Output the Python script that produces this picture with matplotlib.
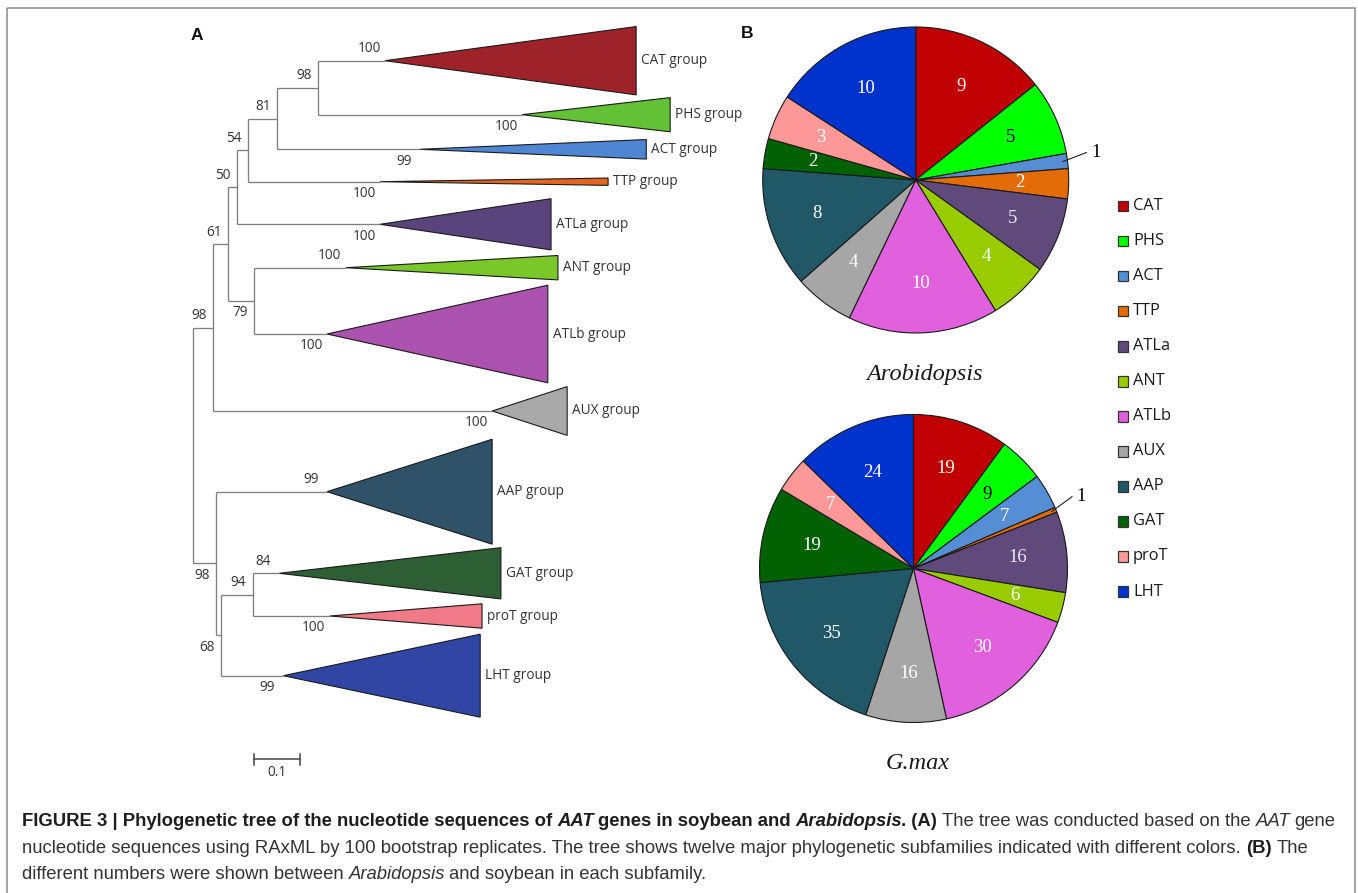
import matplotlib
matplotlib.use('Agg')
import matplotlib.pyplot as plt
from matplotlib.patches import Polygon, Rectangle
import numpy as np

W, H = 1358, 893
fig = plt.figure(figsize=(W / 100, H / 100), dpi=100)

# ---------------- data ----------------
groups = ['CAT', 'PHS', 'ACT', 'TTP', 'ATLa', 'ANT', 'ATLb', 'AUX', 'AAP', 'GAT', 'proT', 'LHT']
arabidopsis_counts = [9, 5, 1, 2, 5, 4, 10, 4, 8, 2, 3, 10]
gmax_counts = [19, 9, 7, 1, 16, 6, 30, 16, 35, 19, 7, 24]

pie_colors = ['#C00000', '#00FF00', '#558ED5', '#E36C09', '#604A7B', '#99CC00',
              '#E060DD', '#A6A6A6', '#215868', '#006100', '#FF9999', '#0033CC']
pie_text_colors = ['white', 'black', 'white', 'white', '#EDE6F5', 'white',
                   'white', 'white', 'white', 'white', 'white', 'white']
tree_colors = ['#9E2229', '#62C134', '#4F86D4', '#E4651F', '#5A447E', '#7AC72A',
               '#AB52AE', '#A9A9A9', '#2F5268', '#2E5E34', '#F07A88', '#3146A4']

# tree: collapsed clades (branch-length units)
clade_apex = [0.418, 0.716, 0.494, 0.407, 0.407, 0.333, 0.292, 0.651, 0.292, 0.188, 0.298, 0.197]
clade_tip = [0.964, 1.038, 0.986, 0.903, 0.779, 0.794, 0.772, 0.814, 0.651, 0.670, 0.629, 0.625]
clade_support = [100, 100, 99, 100, 100, 100, 100, 100, 99, 84, 100, 99]
clade_side = ['above', 'below', 'below', 'below', 'below', 'above', 'below', 'below',
              'above', 'above', 'below', 'below']
clade_row = [60.7, 114.7, 149.3, 181.7, 224.3, 267.7, 334, 411, 491.7, 573.3, 616, 675.7]

# tree: internal nodes
node_names = ['n98b', 'n81', 'n54', 'n50', 'n79', 'n61', 'n98a', 'n94', 'n68', 'n98c', 'root']
node_depth = [0.272, 0.183, 0.120, 0.0963, 0.133, 0.0767, 0.0435, 0.130, 0.061, 0.050, 0.0]
node_children = [['CAT', 'PHS'], ['n98b', 'ACT'], ['n81', 'TTP'], ['n54', 'ATLa'],
                 ['ANT', 'ATLb'], ['n50', 'n79'], ['n61', 'AUX'], ['GAT', 'proT'],
                 ['n94', 'LHT'], ['AAP', 'n68'], ['n98a', 'n98c']]
node_support = [98, 81, 54, 50, 79, 61, 98, 94, 68, 98, None]
node_side = ['above', 'above', 'above', 'above', 'below', 'above', 'above', 'above',
             'below', 'below', None]
scale_len = 0.1

# ---------------- background / frame ----------------
ax_bg = fig.add_axes([0, 0, 1, 1])
ax_bg.set_xlim(0, W)
ax_bg.set_ylim(H, 0)
ax_bg.axis('off')
ax_bg.add_patch(Rectangle((7, 8), 1348, 900, fill=False, edgecolor='#8a8a8a', lw=1.1))
ax_bg.text(197, 35, 'A', fontsize=12.5, fontweight='bold', family='Liberation Sans',
           ha='center', va='center', color='#111111')
ax_bg.text(747, 34, 'B', fontsize=12.5, fontweight='bold', family='Liberation Sans',
           ha='center', va='center', color='#111111')

# ---------------- tree ----------------
PX_PER_UNIT = 460.0
ROOT_PX = 192.7
ax_t = fig.add_axes([0, 0, 1, 1])
ax_t.patch.set_alpha(0)
ax_t.set_xlim(-ROOT_PX / PX_PER_UNIT, (W - ROOT_PX) / PX_PER_UNIT)
ax_t.set_ylim(H, 0)
ax_t.axis('off')

depth = {g: a for g, a in zip(groups, clade_apex)}
ypos = {g: r for g, r in zip(groups, clade_row)}
for name, d, ch in zip(node_names, node_depth, node_children):
    depth[name] = d
    ypos[name] = np.mean([ypos[c] for c in ch])

line_col = '#7f7f7f'
tfont = dict(family='Open Sans', fontsize=9.8, color='#333333')
for name, d, ch, sup, side in zip(node_names, node_depth, node_children, node_support, node_side):
    ys = [ypos[c] for c in ch]
    ax_t.plot([d, d], [min(ys), max(ys)], color=line_col, lw=0.95, solid_capstyle='butt')
    for c in ch:
        ax_t.plot([d, depth[c]], [ypos[c], ypos[c]], color=line_col, lw=0.95,
                  solid_capstyle='butt')
    if sup is not None:
        ax_t.annotate(str(sup), xy=(d, ypos[name]), xytext=(-10, 8.6 if side == 'above' else -8.6),
                      textcoords='offset points', ha='center', va='center', **tfont)

n_total = np.array(arabidopsis_counts) + np.array(gmax_counts)
HALF_PER_MEMBER = 1.22
for g, a, t, y, n, col, sup, side in zip(groups, clade_apex, clade_tip, clade_row, n_total,
                                         tree_colors, clade_support, clade_side):
    h = HALF_PER_MEMBER * n
    ax_t.add_patch(Polygon([(a, y), (t, y - h), (t, y + h)], closed=True, facecolor=col,
                           edgecolor='#1a1a1a', lw=0.8))
    ax_t.annotate(f'{g} group', xy=(t, y), xytext=(3.5, 0), textcoords='offset points',
                  ha='left', va='center', **tfont)
    ax_t.annotate(str(sup), xy=(a, y), xytext=(-11.5, 8.6 if side == 'above' else -8.6),
                  textcoords='offset points', ha='center', va='center', **tfont)

# scale bar
sb_x0, sb_y = 0.133, 759
ax_t.plot([sb_x0, sb_x0 + scale_len], [sb_y, sb_y], color='#444444', lw=1.1)
for xx in (sb_x0, sb_x0 + scale_len):
    ax_t.plot([xx, xx], [sb_y - 5.5, sb_y + 5.5], color='#444444', lw=1.1)
ax_t.text(sb_x0 + scale_len / 2, sb_y + 14, '0.1', ha='center', va='center', **tfont)

# ---------------- pies ----------------
def draw_pie(cx, cy, r, counts, title, tx, ty):
    ax = fig.add_axes([(cx - r) / W, 1 - (cy + r) / H, 2 * r / W, 2 * r / H])
    wedges, _ = ax.pie(counts, colors=pie_colors, startangle=90, counterclock=False,
                       wedgeprops=dict(edgecolor='#1a1a1a', linewidth=0.8))
    ax.set_xlim(-1, 1)
    ax.set_ylim(-1, 1)
    ax.axis('off')
    total = sum(counts)
    for w, v, tc in zip(wedges, counts, pie_text_colors):
        th = np.deg2rad((w.theta1 + w.theta2) / 2)
        if v / total >= 0.02:
            ax.text(0.68 * np.cos(th), 0.68 * np.sin(th), str(v), ha='center', va='center',
                    family='Liberation Serif', fontsize=13.5, color=tc)
        else:
            x0, y0 = 0.97 * np.cos(th), 0.97 * np.sin(th)
            th2 = th + np.deg2rad(2.0)
            x1, y1 = 1.13 * np.cos(th2), 1.13 * np.sin(th2)
            ax.plot([x0, x1], [y0, y1], color='#222222', lw=0.8, clip_on=False)
            ax.text(x1 + 0.03, y1, str(v), ha='left', va='center',
                    family='Liberation Serif', fontsize=13.5, color='black', clip_on=False)
    ax_bg.text(tx, ty, title, ha='center', va='baseline', family='Liberation Serif',
               style='italic', fontsize=17.5, color='#1a1a1a')

draw_pie(915.7, 180, 153, arabidopsis_counts, 'Arobidopsis', 925, 380)
draw_pie(913.5, 568.5, 154, gmax_counts, 'G.max', 918, 769)

# legend
for i, (g, col) in enumerate(zip(groups, pie_colors)):
    yc = 206 + i * 35.05
    ax_bg.add_patch(Rectangle((1117.7, yc - 5.3), 10.6, 10.6, facecolor=col,
                              edgecolor='#333333', lw=0.9))
    ax_bg.text(1133, yc, g, ha='left', va='center', family='Open Sans', fontsize=11.8,
               color='#1a1a1a')

# ---------------- caption ----------------
renderer = fig.canvas.get_renderer()
cap_lines = [
    [('FIGURE 3 | Phylogenetic tree of the nucleotide sequences of ', 'bold', 'normal'),
     ('AAT', 'bold', 'italic'),
     (' genes in soybean and ', 'bold', 'normal'),
     ('Arabidopsis', 'bold', 'italic'),
     ('. (A)', 'bold', 'normal'),
     (' The tree was conducted based on the ', 'normal', 'normal'),
     ('AAT', 'normal', 'italic'),
     (' gene', 'normal', 'normal')],
    [('nucleotide sequences using RAxML by 100 bootstrap replicates. The tree shows twelve major '
      'phylogenetic subfamilies indicated with different colors. ', 'normal', 'normal'),
     ('(B)', 'bold', 'normal'),
     (' The', 'normal', 'normal')],
    [('different numbers were shown between ', 'normal', 'normal'),
     ('Arabidopsis', 'normal', 'italic'),
     (' and soybean in each subfamily.', 'normal', 'normal')],
]
cap_baselines = [826, 853, 879]
CAP_X0 = 22
ITALIC_TRIM = 1.2


def text_w(s, fs, weight, style):
    t = ax_bg.text(0, 0, s, fontsize=fs, fontweight=weight, style=style, family='Liberation Sans')
    w = t.get_window_extent(renderer).width
    t.remove()
    return w


def run_width(runs, fs):
    total = 0
    for s, wt, st in runs:
        core = s.strip(' ')
        nsp = len(s) - len(s.lstrip(' ')) + len(s) - len(s.rstrip(' '))
        spw = text_w('a a', fs, wt, st) - text_w('aa', fs, wt, st)
        total += text_w(core, fs, wt, st) + nsp * spw
        if st == 'italic':
            total -= ITALIC_TRIM
    return total


fs0 = 12.0
w0 = run_width(cap_lines[0], fs0)
cap_fs = fs0 * (1338 - CAP_X0) / w0

for runs, yb in zip(cap_lines, cap_baselines):
    x = CAP_X0
    for s, wt, st in runs:
        spw = text_w('a a', cap_fs, wt, st) - text_w('aa', cap_fs, wt, st)
        lead = len(s) - len(s.lstrip(' '))
        trail = len(s) - len(s.rstrip(' '))
        core = s.strip(' ')
        x += lead * spw
        col = '#1e1e1e' if wt == 'bold' else '#333333'
        t = ax_bg.text(x, yb, core, fontsize=cap_fs, fontweight=wt, style=st,
                       family='Liberation Sans', ha='left', va='baseline', color=col)
        x += t.get_window_extent(renderer).width + trail * spw
        if st == 'italic':
            x -= ITALIC_TRIM

fig.savefig('out.png', dpi=100)
